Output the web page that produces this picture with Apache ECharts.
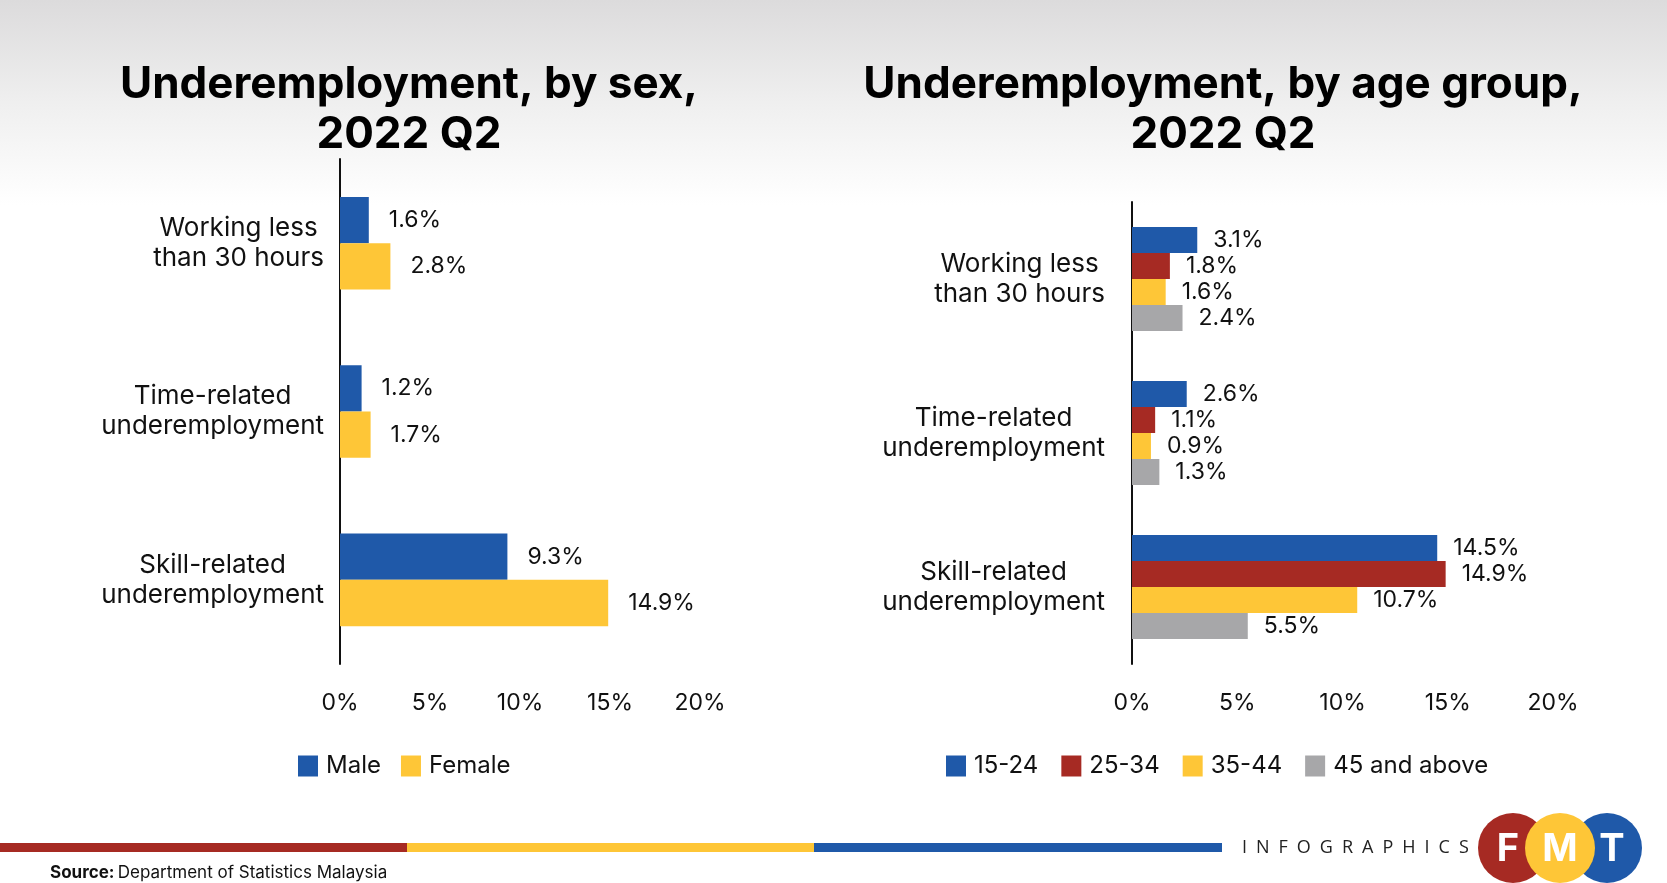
<!DOCTYPE html>
<html>
<head>
<meta charset="utf-8">
<script src="https://cdn.jsdelivr.net/npm/echarts@6/dist/echarts.min.js"></script>
<style>
html,body{margin:0;padding:0;background:#fff;}
#chart{width:1667px;height:883px;}
</style>
</head>
<body>
<div id="chart"></div>
<script>
// ---- data ----
const categories = ['Working less\nthan 30 hours', 'Time-related\nunderemployment', 'Skill-related\nunderemployment'];
const sexNames = ['Male', 'Female'];
const male = [1.6, 1.2, 9.3];
const female = [2.8, 1.7, 14.9];
const ageNames = ['15-24', '25-34', '35-44', '45 and above'];
const age15_24 = [3.1, 2.6, 14.5];
const age25_34 = [1.8, 1.1, 14.9];
const age35_44 = [1.6, 0.9, 10.7];
const age45plus = [2.4, 1.3, 5.5];
const xTicks = [0, 5, 10, 15, 20];

const BLUE = '#1f59a9', RED = '#a62a23', YELLOW = '#fec637', GRAY = '#a7a7a9';
const FONT = 'Inter';
const chart = echarts.init(document.getElementById('chart'), null, {renderer: 'canvas'});

function catFormatter(v) {
  return v.split('\n').map(s => '{c|' + s + '}').join('\n');
}
const catRich = {c: {align: 'center', fontSize: 26, lineHeight: 30, fontFamily: FONT, color: '#111'}};

function xAxisCfg(gridIndex) {
  return {
    gridIndex, type: 'value', min: xTicks[0], max: xTicks[xTicks.length - 1], interval: 5,
    axisLine: {show: false}, axisTick: {show: false}, splitLine: {show: false},
    axisLabel: {formatter: '{value}%', fontSize: 23, fontFamily: FONT, color: '#111', margin: 28}
  };
}
function yAxisCfg(gridIndex, margin) {
  return {
    gridIndex, type: 'category', data: categories, inverse: true,
    axisLine: {show: true, lineStyle: {color: '#111', width: 2}},
    axisTick: {show: false},
    axisLabel: {formatter: catFormatter, rich: catRich, margin: margin, align: 'right'}
  };
}
const labelCfg = {show: true, position: 'right', formatter: p => p.value + '%', fontSize: 23, fontFamily: FONT, color: '#111'};

function bar(name, data, color, xi, gap, dist) {
  return {
    name, type: 'bar', data, xAxisIndex: xi, yAxisIndex: xi,
    itemStyle: {color}, barGap: 0, barCategoryGap: gap,
    label: Object.assign({}, labelCfg, {distance: dist})
  };
}

const legendText = {fontSize: 24, fontFamily: FONT, color: '#111', padding: [0, 0, 0, 3]};

const option = {
  backgroundColor: '#fff',
  animation: false,
  title: [
    {text: 'Underemployment, by sex,\n2022 Q2', left: 409, top: 60, textAlign: 'center', padding: 0,
     textStyle: {fontSize: 44, fontWeight: 'bold', fontFamily: FONT, lineHeight: 50, color: '#000'}},
    {text: 'Underemployment, by age group,\n2022 Q2', left: 1223, top: 60, textAlign: 'center', padding: 0,
     textStyle: {fontSize: 44, fontWeight: 'bold', fontFamily: FONT, lineHeight: 50, color: '#000'}}
  ],
  grid: [
    {left: 340, top: 159, width: 360, height: 505},
    {left: 1132, top: 202, width: 421, height: 462}
  ],
  xAxis: [xAxisCfg(0), xAxisCfg(1)],
  yAxis: [yAxisCfg(0, 16), yAxisCfg(1, 27)],
  legend: [
    {data: sexNames, left: 298, top: 754, padding: 0, icon: 'rect', itemWidth: 20, itemHeight: 21, itemGap: 20,
     textStyle: legendText},
    {data: ageNames, left: 946, top: 754, padding: 0, icon: 'rect', itemWidth: 20, itemHeight: 21, itemGap: 23,
     textStyle: legendText}
  ],
  series: [
    bar('Male', male, BLUE, 0, '45%', 20),
    bar('Female', female, YELLOW, 0, '45%', 20),
    bar('15-24', age15_24, BLUE, 1, '32.5%', 16),
    bar('25-34', age25_34, RED, 1, '32.5%', 16),
    bar('35-44', age35_44, YELLOW, 1, '32.5%', 16),
    bar('45 and above', age45plus, GRAY, 1, '32.5%', 16)
  ],
  graphic: [
    {type: 'rect', z: -10, silent: true, shape: {x: 0, y: 0, width: 1667, height: 205},
     style: {fill: {type: 'linear', x: 0, y: 0, x2: 0, y2: 1, colorStops: [
       {offset: 0, color: '#dcdbdc'}, {offset: 0.5, color: '#efefef'}, {offset: 1, color: '#ffffff'}]}}},
    {type: 'rect', silent: true, shape: {x: 0, y: 843, width: 407, height: 9}, style: {fill: RED}},
    {type: 'rect', silent: true, shape: {x: 407, y: 843, width: 407, height: 9}, style: {fill: YELLOW}},
    {type: 'rect', silent: true, shape: {x: 814, y: 843, width: 408, height: 9}, style: {fill: BLUE}},
    {type: 'text', silent: true, x: 1242, y: 848,
     style: {text: 'I\u2002N\u2002F\u2002O\u2002G\u2002R\u2002A\u2002P\u2002H\u2002I\u2002C\u2002S', font: '400 18px "Open Sans"', fill: '#222', verticalAlign: 'middle'}},
    {type: 'text', silent: true, x: 50, y: 873,
     style: {text: '{b|Source:} {n|Department of Statistics Malaysia}', verticalAlign: 'middle',
       rich: {b: {fontWeight: 'bold', fontSize: 17, fontFamily: FONT, fill: '#111'}, n: {fontSize: 17, fontFamily: FONT, fill: '#111'}}}},
    {type: 'circle', silent: true, shape: {cx: 1513, cy: 848, r: 35}, style: {fill: RED}},
    {type: 'circle', silent: true, shape: {cx: 1607, cy: 848, r: 35}, style: {fill: BLUE}},
    {type: 'circle', silent: true, shape: {cx: 1560, cy: 848, r: 35}, style: {fill: YELLOW}},
    {type: 'text', silent: true, x: 1508, y: 850, style: {text: 'F', font: 'bold 38px Inter', fill: '#fff', align: 'center', verticalAlign: 'middle'}},
    {type: 'text', silent: true, x: 1560, y: 850, style: {text: 'M', font: 'bold 38px Inter', fill: '#fff', align: 'center', verticalAlign: 'middle'}},
    {type: 'text', silent: true, x: 1612, y: 850, style: {text: 'T', font: 'bold 38px Inter', fill: '#fff', align: 'center', verticalAlign: 'middle'}}
  ]
};
chart.setOption(option);
</script>
</body>
</html>
